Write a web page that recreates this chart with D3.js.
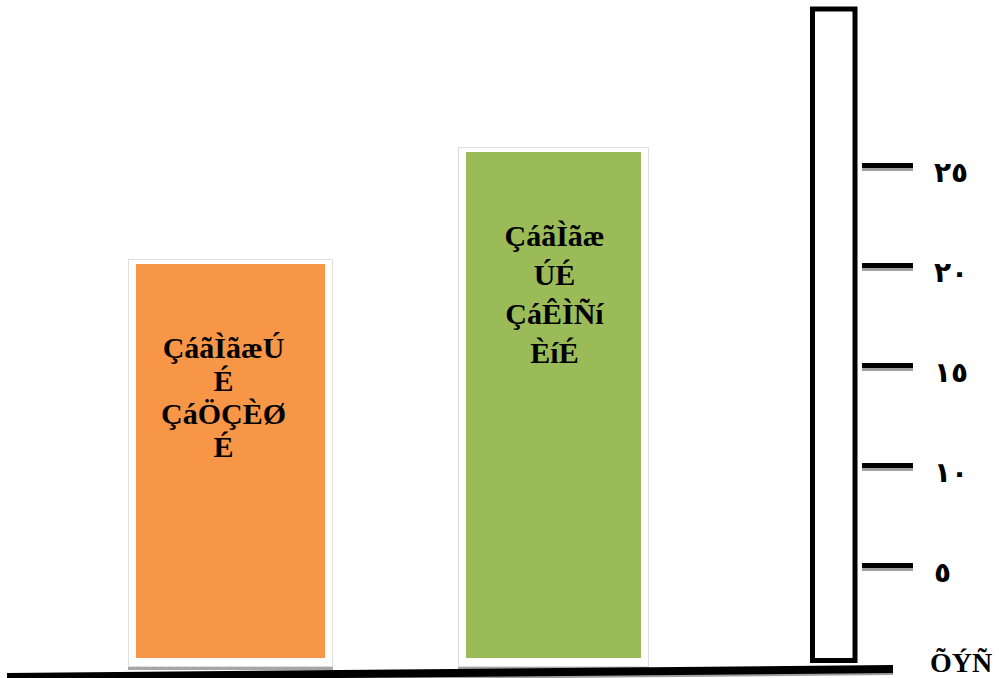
<!DOCTYPE html>
<html>
<head>
<meta charset="utf-8">
<script src="https://cdn.jsdelivr.net/npm/d3@7"></script>
<style>
  html, body { margin: 0; padding: 0; background: #fff; }
  svg { display: block; }
</style>
</head>
<body>
<svg id="chart" width="999" height="678"></svg>
<script>
// ---- data ----
const categories = ["ÇáãÌãæÚÉ ÇáÖÇÈØÉ", "ÇáãÌãæÚÉ ÇáÊÌÑíÈíÉ"];
const categoryLines = [["ÇáãÌãæÚ", "É", "ÇáÖÇÈØ", "É"], ["ÇáãÌãæ", "ÚÉ", "ÇáÊÌÑí", "ÈíÉ"]];
const values = [20.3, 25.9];
const barColors = ["#F79646", "#9BBB59"];
const tickValues = [5, 10, 15, 20, 25];
const tickLabels = ["٥", "١٠", "١٥", "٢٠", "٢٥"];
const zeroLabel = "ÕÝÑ";
const rulerMax = 32.8;

// ---- scales ----
const svg = d3.select("#chart");
const y = d3.scaleLinear().domain([0, 25]).range([665, 165]);
const xc = d3.scalePoint().domain(categories).range([230.5, 553.5]);
const bw = d3.scaleOrdinal().domain(categories).range([205, 191]);
const lineGap = d3.scaleOrdinal().domain(categories).range([33, 39]);
const textShift = d3.scaleOrdinal().domain(categories).range([-7, 1]);

// ---- bars (framed) ----
const g = svg.append("g");
categories.forEach((c, i) => {
  const w = bw(c), x0 = xc(c) - w / 2;
  const top = y(values[i]);
  g.append("rect").attr("x", x0).attr("y", y(0) + 1).attr("width", w).attr("height", 4).attr("fill", "#a6a6a6");
  g.append("rect").attr("x", x0 + 0.5).attr("y", top + 0.5).attr("width", w - 1).attr("height", y(0) + 1 - top)
    .attr("fill", "#fff").attr("stroke", "#dedede").attr("stroke-width", 1);
  const ft = top + 5;
  g.append("rect").attr("x", x0 + 8).attr("y", ft).attr("width", w - 16).attr("height", (y(0) - 7) - ft)
    .attr("fill", barColors[i]);
  const cx = xc(c) + textShift(c);
  const t = g.append("text").attr("text-anchor", "middle")
    .attr("font-family", "'Liberation Serif','Times New Roman',serif")
    .attr("font-weight", "bold").attr("font-size", 30).attr("fill", "#000");
  categoryLines[i].forEach((ln, j) => {
    t.append("tspan").attr("x", cx).attr("y", ft + 94 + j * lineGap(c)).text(ln);
  });
});

// ---- baseline ----
svg.append("line").attr("x1", 7).attr("y1", y(0) + 15).attr("x2", 893).attr("y2", y(0) + 7)
  .attr("stroke", "#a0a0a0").attr("stroke-width", 6);
svg.append("line").attr("x1", 7).attr("y1", y(0) + 12).attr("x2", 893).attr("y2", y(0) + 4)
  .attr("stroke", "#000").attr("stroke-width", 8);

// ---- ruler ----
svg.append("rect").attr("x", 812.5).attr("y", y(rulerMax)).attr("width", 42.5).attr("height", y(0) - 4.5 - y(rulerMax))
  .attr("fill", "#fff").attr("stroke", "#000").attr("stroke-width", 5);

const ticks = svg.append("g");
tickValues.forEach((v, i) => {
  const ty = y(v) + 0.5;
  ticks.append("line").attr("x1", 862).attr("x2", 913).attr("y1", ty + 4).attr("y2", ty + 4)
    .attr("stroke", "#a0a0a0").attr("stroke-width", 3);
  ticks.append("line").attr("x1", 862).attr("x2", 913).attr("y1", ty).attr("y2", ty)
    .attr("stroke", "#000").attr("stroke-width", 5);
  ticks.append("text").attr("x", 934).attr("y", ty + 16)
    .attr("font-family", "'DejaVu Sans',sans-serif").attr("font-weight", "bold").attr("font-size", 28)
    .attr("letter-spacing", 2).attr("fill", "#000").attr("direction", "ltr").text(tickLabels[i]);
});

svg.append("text").attr("x", 930).attr("y", 672)
  .attr("font-family", "'Liberation Serif','Times New Roman',serif").attr("font-weight", "bold")
  .attr("font-size", 28).attr("fill", "#000").text(zeroLabel);
</script>
</body>
</html>
